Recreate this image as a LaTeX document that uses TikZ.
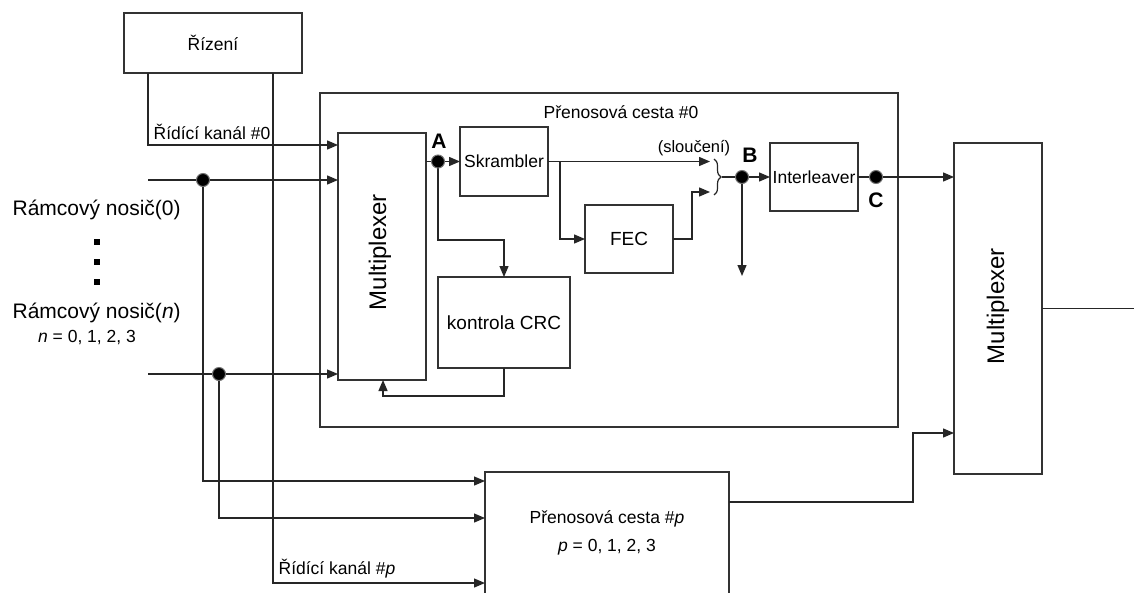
\documentclass[tikz,border=0pt]{standalone}
\usepackage{fontspec}
\setmainfont{Liberation Sans}
\usetikzlibrary{arrows.meta,decorations.pathreplacing}
\begin{document}
\begin{tikzpicture}[x=1pt,y=-1pt,
  line width=1.3pt,
  color=black!85,
  box/.style={draw=black!80,rectangle,inner sep=0pt,outer sep=0pt,fill=white},
  arr/.style={-{Triangle[length=11pt,width=9pt]}},
  dot/.style={circle,fill=black,draw=black!55,line width=1pt,inner sep=0pt,minimum size=13pt},
  sq/.style={rectangle,fill=black,draw=none,inner sep=0pt,minimum size=6pt},
  txt/.style={inner sep=0pt,text=black,font=\fontsize{17.5}{21}\selectfont},
  big/.style={inner sep=0pt,text=black,font=\fontsize{21}{25}\selectfont},
  mid/.style={inner sep=0pt,text=black,font=\fontsize{19}{23}\selectfont},
  mux/.style={inner sep=0pt,text=black,rotate=90,font=\fontsize{24}{28}\selectfont},
  pt/.style={inner sep=0pt,text=black,font=\bfseries\fontsize{21}{25}\selectfont}]
\useasboundingbox (0,0) rectangle (1134,592);
\clip (0,0) rectangle (1134,592);

% boxes
\node[box,minimum width=578pt,minimum height=334pt] (outer0) at (609,260) {};
\node[box,minimum width=178pt,minimum height=60pt,txt] (riz) at (213,43) {Řízení};
\node[box,minimum width=88pt,minimum height=247pt] (mux1) at (382,256.5) {};
\node[box,minimum width=88pt,minimum height=69pt,txt] (skr) at (504,161.5) {Skrambler};
\node[box,minimum width=132pt,minimum height=91pt,mid] (crc) at (504,322.5) {kontrola CRC};
\node[box,minimum width=88pt,minimum height=68pt,mid] (fec) at (629,239) {FEC};
\node[box,minimum width=88pt,minimum height=68pt,txt] (intl) at (814,177) {Interleaver};
\node[box,minimum width=88pt,minimum height=331pt] (mux2) at (998,308.5) {};
\node[box,minimum width=244pt,minimum height=168pt] (pbox) at (607,556) {};

\node[mux] (mux1t) at (380,252) {Multiplexer};
\node[mux] (mux2t) at (998,306) {Multiplexer};

% labels
\node[txt] (t0) at (621,112) {Přenosová cesta \#0};
\node[txt,anchor=west] (rk0) at (153,132) {Řídící kanál \#0};
\node[txt,anchor=west] (rkp) at (278,569) {Řídící kanál \#\textit{p}};
\node[big,anchor=west] (rn0) at (12,210) {Rámcový nosič(0)};
\node[big,anchor=west] (rnn) at (12,313) {Rámcový nosič(\textit{n})};
\node[txt] (nv) at (87,338) {\textit{n} = 0, 1, 2, 3};
\node[sq] (s1) at (97,242) {};
\node[sq] (s2) at (97,262) {};
\node[sq] (s3) at (97,282) {};
\node[inner sep=0pt,text=black,font=\fontsize{16.5}{20}\selectfont] (sl) at (694,148) {(sloučení)};
\node[txt] (pt1) at (607,519) {Přenosová cesta \#\textit{p}};
\node[txt] (pt2) at (607,547) {\textit{p} = 0, 1, 2, 3};

% free ends
\coordinate (in0) at (148,180);
\coordinate (inn) at (148,374);
\coordinate (bt) at (710,161.5);
\coordinate (bb) at (710,192);
\coordinate (bdown) at (742,276);
\coordinate (outr) at (1134,308.5);
\coordinate (btip) at (722,177);

% dots (positions)
\coordinate (j0p) at (203,180);
\coordinate (jnp) at (219,374);
\coordinate (Ap) at (438,161.5);
\coordinate (Bp) at (742,177);
\coordinate (Cp) at (876,177);

% connectors
\draw[arr] (riz.south -| 148,0) |- (mux1.west |- 0,145);
\draw[arr] (in0) -- (mux1.west |- in0);
\draw[arr] (inn) -- (mux1.west |- inn);
\draw[arr] (j0p) |- (pbox.west |- 0,481);
\draw[arr] (jnp) |- (pbox.west |- 0,518);
\draw[arr] (riz.south -| 273,0) |- (pbox.west |- 0,583);

\draw (mux1.east |- Ap) -- (Ap);
\draw[arr] (Ap) -- (skr.west |- Ap);
\draw[arr] (Ap) |- (crc.north |- 0,240) -- (crc.north);
\draw[arr] (crc.south) |- (383,396) -- (mux1.south -| 383,0);
\draw[arr] (skr.east) -- (bt);
\draw[arr] (skr.east -| 560,0) |- (fec.west);
\draw[arr] (fec.east) -| (692,192) -- (bb);
\draw[line width=1.2pt,decorate,decoration={brace,amplitude=7pt}] (714,159) -- (714,195);
\draw (btip) -- (Bp);
\draw[arr] (Bp) -- (intl.west);
\draw[arr] (Bp) -- (bdown);
\draw (intl.east) -- (Cp);
\draw[arr] (Cp) -- (mux2.west |- Cp);
\draw (mux2.east) -- (outr);
\draw[arr] (pbox.east |- 0,502) -| (913,433) -- (mux2.west |- 0,433);

\node[dot] (j0) at (j0p) {};
\node[dot] (jn) at (jnp) {};
\node[dot] (A) at (Ap) {};
\node[dot] (B) at (Bp) {};
\node[dot] (C) at (Cp) {};
\node[pt] (Al) at (439,141) {A};
\node[pt] (Bl) at (750,155) {B};
\node[pt] (Cl) at (876,200) {C};
\end{tikzpicture}
\end{document}
